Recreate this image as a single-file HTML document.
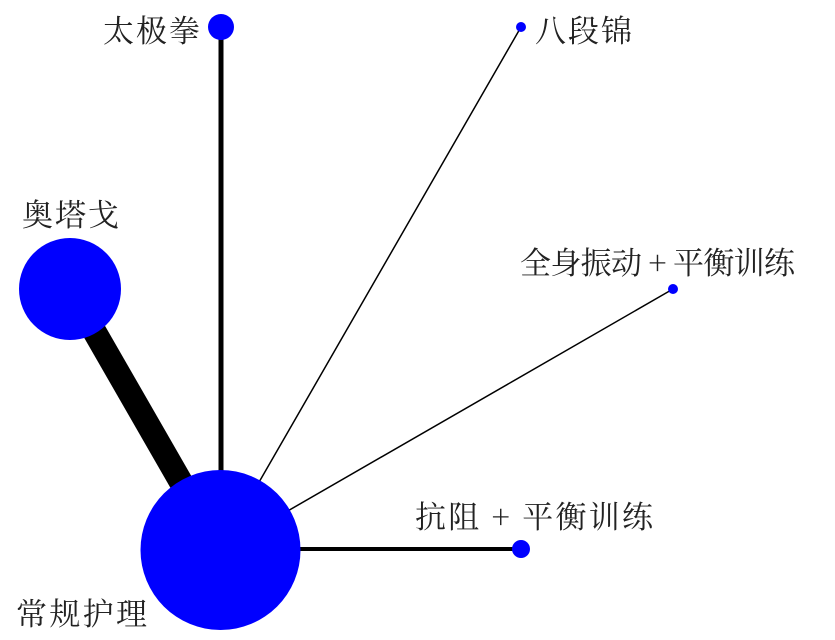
<!DOCTYPE html>
<html><head><meta charset="utf-8"><style>
html,body{margin:0;padding:0;background:#fff;}
svg{display:block}
text{font-family:"Noto Serif CJK SC","Liberation Serif",serif;font-size:31px;fill:#222;}
</style></head><body>
<svg width="835" height="640" viewBox="0 0 835 640" xmlns="http://www.w3.org/2000/svg">
<line x1="70" y1="289" x2="220" y2="550" stroke="#000" stroke-width="24"/>
<line x1="221" y1="27" x2="221" y2="550" stroke="#000" stroke-width="5"/>
<line x1="521" y1="27" x2="220" y2="550" stroke="#000" stroke-width="1.5"/>
<line x1="673" y1="289" x2="220" y2="550" stroke="#000" stroke-width="1.5"/>
<line x1="220" y1="549" x2="521" y2="549" stroke="#000" stroke-width="4"/>
<circle cx="70" cy="289" r="51" fill="#0000ff"/>
<circle cx="220.5" cy="550" r="80" fill="#0000ff"/>
<circle cx="221" cy="27" r="13" fill="#0000ff"/>
<circle cx="521" cy="27" r="5" fill="#0000ff"/>
<circle cx="673" cy="289" r="5" fill="#0000ff"/>
<circle cx="521" cy="549" r="9" fill="#0000ff"/>
<text x="103" y="42" textLength="97">太极拳</text>
<text x="535" y="42" textLength="97">八段锦</text>
<text x="22" y="226" textLength="97">奥塔戈</text>
<text x="520" y="274" textLength="275">全身振动 + 平衡训练</text>
<text x="415" y="528" textLength="238">抗阻 + 平衡训练</text>
<text x="16" y="625" textLength="131">常规护理</text>
</svg>
</body></html>
